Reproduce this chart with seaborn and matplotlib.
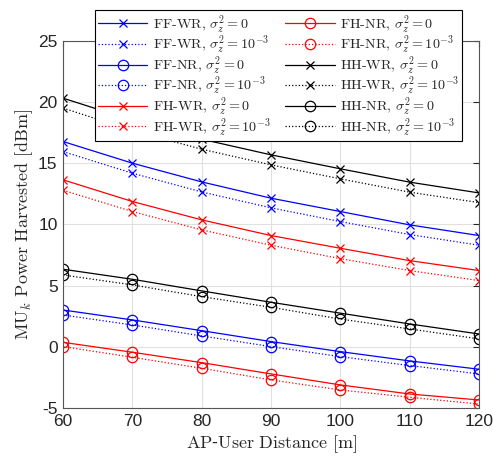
import numpy as np
import pandas as pd
import matplotlib
matplotlib.use("Agg")
import matplotlib.pyplot as plt
import seaborn as sns

# -----------------------------
# data
# -----------------------------
distance = [60, 70, 80, 90, 100, 110, 120]

ff_wr_0 = [16.77, 15.00, 13.47, 12.14, 11.05, 9.96, 9.09]
ff_wr_3 = [15.95, 14.18, 12.65, 11.35, 10.23, 9.17, 8.30]
ff_nr_0 = [3.01, 2.20, 1.32, 0.43, -0.39, -1.15, -1.83]
ff_nr_3 = [2.60, 1.79, 0.89, 0.02, -0.80, -1.53, -2.21]
fh_wr_0 = [13.64, 11.87, 10.37, 9.09, 8.05, 7.04, 6.23]
fh_wr_3 = [12.79, 11.05, 9.55, 8.30, 7.20, 6.23, 5.41]
fh_nr_0 = [0.37, -0.44, -1.29, -2.21, -3.11, -3.85, -4.34]
fh_nr_3 = [0.02, -0.85, -1.75, -2.70, -3.52, -4.12, -4.67]
hh_wr_0 = [20.31, 18.50, 16.96, 15.68, 14.54, 13.45, 12.57]
hh_wr_3 = [19.50, 17.67, 16.14, 14.86, 13.72, 12.63, 11.78]
hh_nr_0 = [6.34, 5.52, 4.57, 3.64, 2.75, 1.87, 1.05]
hh_nr_3 = [5.87, 5.06, 4.10, 3.23, 2.27, 1.46, 0.65]

series = [
    ("FF-WR", "0", ff_wr_0, "blue", "x"),
    ("FF-WR", "3", ff_wr_3, "blue", "x"),
    ("FF-NR", "0", ff_nr_0, "blue", "o"),
    ("FF-NR", "3", ff_nr_3, "blue", "o"),
    ("FH-WR", "0", fh_wr_0, "red", "x"),
    ("FH-WR", "3", fh_wr_3, "red", "x"),
    ("FH-NR", "0", fh_nr_0, "red", "o"),
    ("FH-NR", "3", fh_nr_3, "red", "o"),
    ("HH-WR", "0", hh_wr_0, "black", "x"),
    ("HH-WR", "3", hh_wr_3, "black", "x"),
    ("HH-NR", "0", hh_nr_0, "black", "o"),
    ("HH-NR", "3", hh_nr_3, "black", "o"),
]

# -----------------------------
# style
# -----------------------------
sns.set_style("white")
plt.rcParams["mathtext.fontset"] = "cm"
plt.rcParams["font.family"] = ["Liberation Sans", "DejaVu Sans"]
plt.rcParams["axes.unicode_minus"] = False

fig = plt.figure(figsize=(4.93, 4.58), dpi=100)
ax = fig.add_axes([0.128, 0.109, 0.844, 0.802])

for name, var, vals, col, mk in series:
    ls = "-" if var == "0" else ":"
    sig = r"$\sigma_z^2 = 0$" if var == "0" else r"$\sigma_z^2 = 10^{-3}$"
    sns.lineplot(x=distance, y=vals, ax=ax, color=col, linestyle=ls,
                 linewidth=0.9, marker=mk,
                 markersize=7.5 if mk == "o" else 6,
                 markerfacecolor="none", markeredgecolor=col,
                 markeredgewidth=0.9,
                 label=name + ", " + sig)

ax.set_xlim(60, 120)
ax.set_ylim(-5, 25)
ax.set_xticks(range(60, 121, 10))
ax.set_yticks(range(-5, 26, 5))
ax.grid(True, color="#e0e0e0", linewidth=0.8)
ax.set_axisbelow(True)
ax.tick_params(direction="in", length=4, labelsize=12.5, colors="#262626",
               top=True, right=True, pad=4)
for lab in ax.get_xticklabels() + ax.get_yticklabels():
    lab.set_fontfamily(["Liberation Sans", "DejaVu Sans"])
for sp in ax.spines.values():
    sp.set_color("#555555")
    sp.set_linewidth(0.8)

ax.set_xlabel(r"$\mathrm{AP}$-$\mathrm{User\ Distance\ [m]}$", fontsize=13,
              color="#262626", labelpad=3)
ax.set_ylabel(r"$\mathrm{MU}_k\ \mathrm{Power\ Harvested\ [dBm]}$", fontsize=13,
              color="#262626", labelpad=2)

leg = ax.legend(ncol=2, loc="upper left", bbox_to_anchor=(95 / 493, 1 - 10 / 458),
                bbox_transform=fig.transFigure, fontsize=10.2, frameon=True,
                fancybox=False, edgecolor="black", framealpha=1,
                handlelength=3.5, columnspacing=1.0, labelspacing=-0.15,
                borderpad=0.2, handletextpad=0.4, borderaxespad=0)
leg.get_frame().set_linewidth(0.8)
for t in leg.get_texts():
    t.set_fontfamily("cmr10")

fig.savefig("out.png", dpi=100)
